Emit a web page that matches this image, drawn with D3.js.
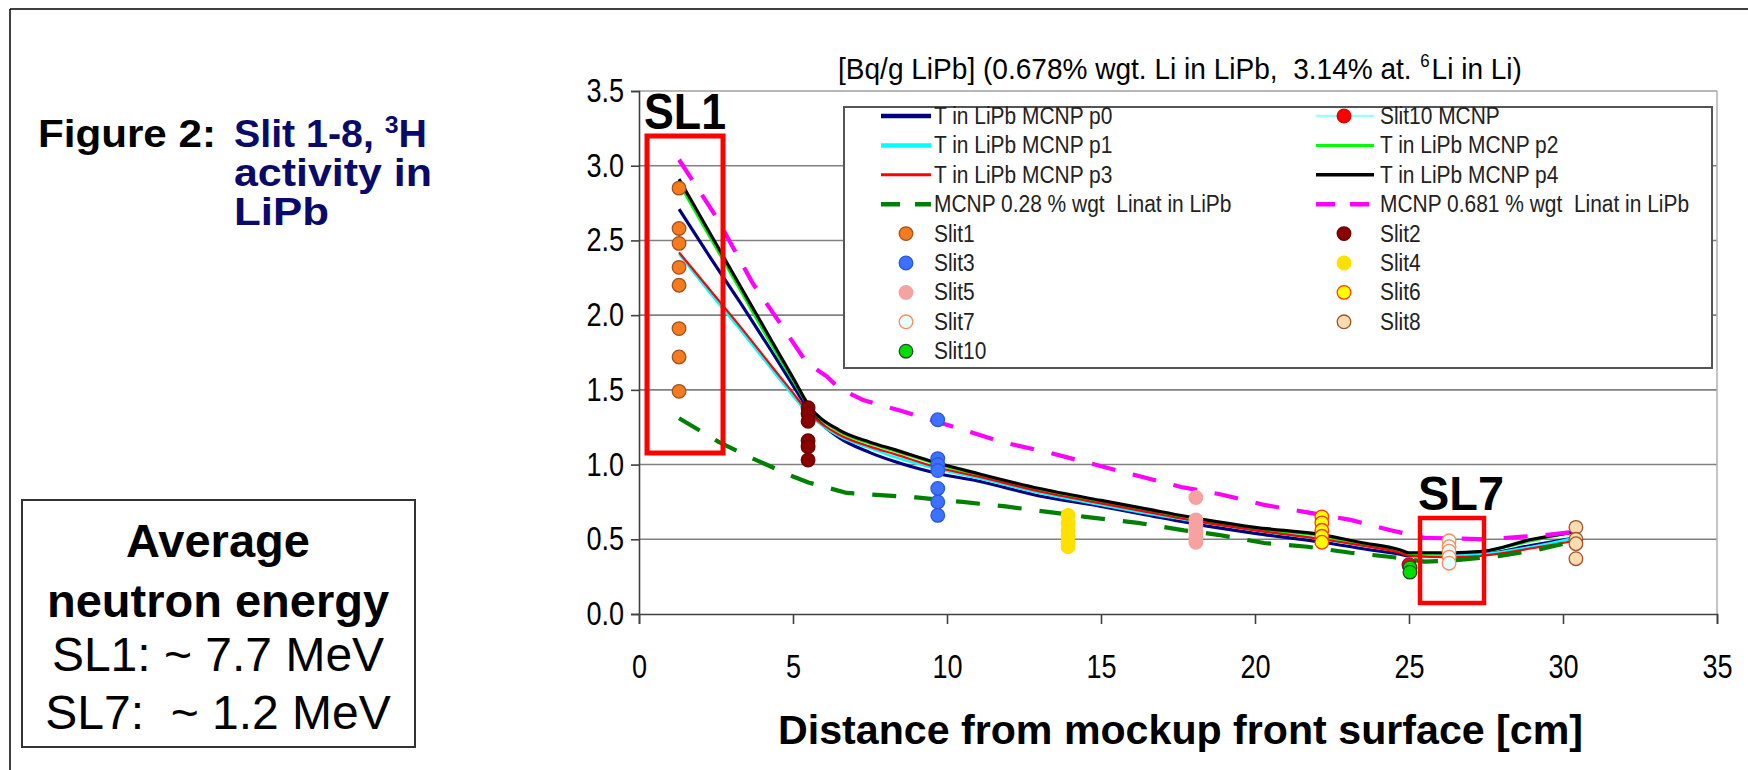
<!DOCTYPE html>
<html><head><meta charset="utf-8">
<script src="https://cdn.jsdelivr.net/npm/d3@7"></script>
<style>
html,body{margin:0;padding:0;background:#fff;}
svg text{font-family:"Liberation Sans",Arial,sans-serif;white-space:pre;}
</style></head>
<body><svg id="c" width="1748" height="770"></svg>
<script>
// ---------- data ----------
const xTicks = [0,5,10,15,20,25,30,35];
const yTicks = [0,0.5,1.0,1.5,2.0,2.5,3.0,3.5];
const mcnpX = [1.3,2.3,3.3,4.3,5.0,5.5,6.5,7.5,8.3,9.7,11,13,15,16.3,18.4,20,22.2,23.4,24.7,25,26.3,27.4,29,30.4];
const p0 = [2.71,2.39,2.08,1.76,1.53,1.37,1.18,1.08,1.02,0.94,0.89,0.79,0.72,0.67,0.59,0.54,0.48,0.44,0.40,0.39,0.39,0.40,0.46,0.51];
const p1 = [2.41,2.15,1.90,1.64,1.46,1.34,1.19,1.11,1.05,0.97,0.91,0.81,0.73,0.68,0.61,0.56,0.50,0.46,0.42,0.40,0.39,0.40,0.45,0.51];
const p2 = [2.88,2.52,2.16,1.80,1.56,1.39,1.22,1.14,1.09,1.00,0.93,0.83,0.75,0.70,0.62,0.57,0.52,0.47,0.42,0.40,0.41,0.42,0.49,0.55];
const p3 = [2.42,2.17,1.92,1.66,1.48,1.35,1.20,1.12,1.07,0.98,0.92,0.82,0.74,0.69,0.61,0.56,0.50,0.46,0.41,0.39,0.38,0.39,0.44,0.49];
const p4 = [2.91,2.55,2.19,1.83,1.58,1.40,1.23,1.15,1.10,1.01,0.94,0.84,0.76,0.71,0.63,0.58,0.53,0.48,0.43,0.41,0.41,0.42,0.50,0.55];
const lin681X = [1.3,2.5,3.7,4.5,5.45,6.1,6.5,7.3,8.5,10.1,11.8,13.3,14.8,16.1,17.6,18.9,20.3,21.7,23.1,24.4,25.5,27.5,29.5,30.4];
const lin681Y = [3.04,2.66,2.21,1.97,1.68,1.59,1.51,1.43,1.36,1.26,1.15,1.08,1.00,0.93,0.85,0.80,0.73,0.68,0.63,0.56,0.51,0.50,0.53,0.55];
const lin028X = [1.3,2.6,3.7,5.0,5.5,6.75,9.0,10.5,11.9,13.4,14.5,16.2,17.7,18.8,20.3,21.7,23.1,24.5,25.5,26.5,28,29.2,30.4];
const lin028Y = [1.31,1.15,1.04,0.92,0.88,0.81,0.78,0.75,0.72,0.68,0.65,0.61,0.56,0.53,0.475,0.45,0.41,0.38,0.35,0.36,0.39,0.43,0.49];
const slitX = {Slit1:1.3, Slit2:5.49, Slit3:9.7, Slit4:13.93, Slit5:18.08, Slit6:22.17, Slit7:26.3, Slit8:30.42, Slit10:25.03, "Slit10 MCNP":25.0};
const slit1 = [2.85,2.58,2.48,2.32,2.20,1.91,1.72,1.49];
const slit2 = [1.38,1.34,1.29,1.16,1.12,1.03];
const slit3 = [1.30,1.04,1.00,0.96,0.84,0.75,0.66];
const slit4 = [0.66,0.61,0.56,0.52,0.48,0.45];
const slit5 = [0.78,0.63,0.59,0.55,0.51,0.48];
const slit6 = [0.65,0.61,0.56,0.52,0.48];
const slit7 = [0.49,0.45,0.42,0.38,0.34];
const slit8 = [0.58,0.50,0.47,0.37];
const slit10 = [0.31,0.28];
const slit10mcnp = [0.33];

// ---------- styles ----------
const lineSeries = [
  {name:"T in LiPb MCNP p0", xs:mcnpX, ys:p0, color:"#000080", w:3.2},
  {name:"T in LiPb MCNP p1", xs:mcnpX, ys:p1, color:"#00ffff", w:2.6},
  {name:"T in LiPb MCNP p2", xs:mcnpX, ys:p2, color:"#00ff00", w:2.4},
  {name:"T in LiPb MCNP p3", xs:mcnpX, ys:p3, color:"#ff0000", w:2.2},
  {name:"T in LiPb MCNP p4", xs:mcnpX, ys:p4, color:"#000000", w:3.2},
  {name:"MCNP 0.28 % wgt  Linat in LiPb", xs:lin028X, ys:lin028Y, color:"#008000", w:4.2, dash:"24,18", linear:true},
  {name:"MCNP 0.681 % wgt  Linat in LiPb", xs:lin681X, ys:lin681Y, color:"#ff00ff", w:4.2, dash:"24,18", linear:true}
];
const pointSeries = [
  {name:"Slit1", ys:slit1, fill:"#f47b20", stroke:"#a4521d"},
  {name:"Slit2", ys:slit2, fill:"#8b0000", stroke:"#6e0000"},
  {name:"Slit3", ys:slit3, fill:"#3d72ff", stroke:"#2b58e0"},
  {name:"Slit4", ys:slit4, fill:"#ffe000", stroke:"#ffe000"},
  {name:"Slit5", ys:slit5, fill:"#f7a1a1", stroke:"#f7a1a1"},
  {name:"Slit6", ys:slit6, fill:"#ffff00", stroke:"#ff3a00"},
  {name:"Slit7", ys:slit7, fill:"#e6ffff", stroke:"#ff8a5a"},
  {name:"Slit8", ys:slit8, fill:"#ffdcb0", stroke:"#a0522d"},
  {name:"Slit10 MCNP", ys:slit10mcnp, fill:"#ff0000", stroke:"#aa0030"},
  {name:"Slit10", ys:slit10, fill:"#00dd00", stroke:"#2a4a2a"}
];

const svg = d3.select("#c");
const x = d3.scaleLinear().domain([0,35]).range([639,1717]);
const y = d3.scaleLinear().domain([0,3.5]).range([614,91]);
const condense = (sel,f)=>sel.each(function(){const n=this.getComputedTextLength();d3.select(this).attr("textLength",n*f).attr("lengthAdjust","spacingAndGlyphs");});
const fitTo = (sel,w)=>sel.attr("textLength",w).attr("lengthAdjust","spacingAndGlyphs");

// outer frame
svg.append("line").attr("x1",10).attr("x2",1748).attr("y1",9).attr("y2",9).attr("stroke","#000").attr("stroke-width",1.5);
svg.append("line").attr("x1",10).attr("x2",10).attr("y1",9).attr("y2",770).attr("stroke","#000").attr("stroke-width",1.5);

// grid
svg.append("g").selectAll("line").data(yTicks.filter(d=>d>0&&d<3.5)).join("line")
  .attr("x1",x(0)).attr("x2",x(35)).attr("y1",d=>y(d)).attr("y2",d=>y(d))
  .attr("stroke","#808080").attr("stroke-width",1.6);
svg.append("line").attr("x1",x(0)).attr("x2",x(35)).attr("y1",y(3.5)).attr("y2",y(3.5)).attr("stroke","#a0a0a0").attr("stroke-width",1.5);
svg.append("line").attr("x1",x(35)).attr("x2",x(35)).attr("y1",y(3.5)).attr("y2",y(0)).attr("stroke","#b0b0b0").attr("stroke-width",1.5);

// axes
const gx = svg.append("g").attr("transform",`translate(0,${y(0)})`)
  .call(d3.axisBottom(x).tickValues(xTicks).tickSize(10).tickPadding(31).tickFormat(d3.format("d")));
const gy = svg.append("g").attr("transform",`translate(${x(0)},0)`)
  .call(d3.axisLeft(y).tickValues(yTicks).tickSize(8).tickPadding(7).tickFormat(d3.format(".1f")));
[gx,gy].forEach(g=>{
  g.select(".domain").attr("stroke","#404040").attr("stroke-width",1.6);
  g.selectAll(".tick line").attr("stroke","#404040").attr("stroke-width",1.6);
  g.selectAll("text").attr("fill","#000").style("font-size","33px").style("font-family",'"Liberation Sans",Arial,sans-serif');
  condense(g.selectAll("text"),0.82);
});

// legend box
const L = {x0:844, x1:1712, y0:107, y1:368};
svg.append("rect").attr("x",L.x0).attr("y",L.y0).attr("width",L.x1-L.x0).attr("height",L.y1-L.y0)
  .attr("fill","#fff").attr("stroke","#555").attr("stroke-width",2);

// lines
const lineGen = d3.line().x(d=>x(d[0])).y(d=>y(d[1]));
lineSeries.forEach(s=>{
  const pts = s.xs.map((v,i)=>[v,s.ys[i]]);
  svg.append("path").attr("d", lineGen.curve(s.linear?d3.curveLinear:d3.curveMonotoneX)(pts))
    .attr("fill","none").attr("stroke",s.color).attr("stroke-width",s.w)
    .attr("stroke-dasharray",s.dash||null).attr("stroke-linejoin","round");
});

// points
pointSeries.forEach(s=>{
  svg.append("g").selectAll("circle").data(s.ys).join("circle")
    .attr("cx",x(slitX[s.name])).attr("cy",d=>y(d)).attr("r",6.8)
    .attr("fill",s.fill).attr("stroke",s.stroke).attr("stroke-width",1.3);
});

// legend entries
const rowY = i => 116 + i*29.4;
const cols = [{l0:881,l1:931,m:906,t:934},{l0:1316,l1:1374,m:1344,t:1380}];
const legendItems = [
  {name:"T in LiPb MCNP p0", type:"line", color:"#000080", w:4.5},
  {name:"Slit10 MCNP", type:"linept", color:"#99ffff", w:2.5, fill:"#ff0000", stroke:"#dd0000"},
  {name:"T in LiPb MCNP p1", type:"line", color:"#00ffff", w:4.5},
  {name:"T in LiPb MCNP p2", type:"line", color:"#00ff00", w:3},
  {name:"T in LiPb MCNP p3", type:"line", color:"#ff0000", w:3},
  {name:"T in LiPb MCNP p4", type:"line", color:"#000000", w:3.5},
  {name:"MCNP 0.28 % wgt  Linat in LiPb", type:"dash", color:"#008000", w:4.5},
  {name:"MCNP 0.681 % wgt  Linat in LiPb", type:"dash", color:"#ff00ff", w:4.5},
  ...pointSeries.filter(p=>p.name!=="Slit10 MCNP").map(p=>({name:p.name,type:"pt",fill:p.fill,stroke:p.stroke}))
];
legendItems.forEach((it,i)=>{
  const c = cols[i%2], yy = rowY(Math.floor(i/2));
  const g = svg.append("g");
  if(it.type==="line"||it.type==="linept"){
    g.append("line").attr("x1",c.l0).attr("x2",c.l1).attr("y1",yy).attr("y2",yy).attr("stroke",it.color).attr("stroke-width",it.w);
  }
  if(it.type==="dash"){
    g.append("line").attr("x1",c.l0).attr("x2",c.l1).attr("y1",yy).attr("y2",yy).attr("stroke",it.color).attr("stroke-width",it.w).attr("stroke-dasharray","19,15");
  }
  if(it.type==="linept"||it.type==="pt"){
    g.append("circle").attr("cx",c.m).attr("cy",yy).attr("r",6.8).attr("fill",it.fill).attr("stroke",it.stroke).attr("stroke-width",1.3);
  }
  const t = g.append("text").attr("x",c.t).attr("y",yy+8).attr("fill","#222").style("font-size","23px").text(it.name);
  condense(t,0.91);
});

// chart title: natural text in a horizontally scaled group, superscript as its own piece
const tg = svg.append("g").attr("fill","#000");
const tp1 = tg.append("text").attr("x",0).attr("y",79).style("font-size","30px").text("[Bq/g LiPb] (0.678% wgt. Li in LiPb,  3.14% at.");
const tp2 = tg.append("text").attr("y",67).style("font-size","18px").text("6");
const tp3 = tg.append("text").attr("y",79).style("font-size","30px").text("Li in Li)");
const w1 = tp1.node().getComputedTextLength(), w2 = tp2.node().getComputedTextLength(), w3 = tp3.node().getComputedTextLength();
const gap1 = 9, gap2 = 2;
tp2.attr("x",w1+gap1);
tp3.attr("x",w1+gap1+w2+gap2);
const sx = 684/(w1+gap1+w2+gap2+w3);
tg.attr("transform",`translate(838,0) scale(${sx},1)`);

// x axis title
svg.append("text").attr("x",778).attr("y",744).attr("fill","#000").style("font-size","41px").style("font-weight","bold")
  .attr("textLength",805).attr("lengthAdjust","spacingAndGlyphs").text("Distance from mockup front surface [cm]");

// SL1 / SL7 annotations
svg.append("rect").attr("x",647).attr("y",136).attr("width",76).attr("height",317).attr("fill","none").attr("stroke","#ff0000").attr("stroke-width",5);
svg.append("text").attr("x",644).attr("y",129).style("font-size","50px").style("font-weight","bold").attr("textLength",82).attr("lengthAdjust","spacingAndGlyphs").text("SL1");
svg.append("rect").attr("x",1420).attr("y",518).attr("width",64).attr("height",85).attr("fill","none").attr("stroke","#ff0000").attr("stroke-width",4.5);
svg.append("text").attr("x",1418).attr("y",510).style("font-size","49px").style("font-weight","bold").attr("textLength",86).attr("lengthAdjust","spacingAndGlyphs").text("SL7");

// figure caption
const cap = svg.append("g").style("font-weight","bold").style("font-size","38px");
fitTo(cap.append("text").attr("x",38).attr("y",147).attr("fill","#000").text("Figure 2:"),178);
const c1 = cap.append("text").attr("x",234).attr("y",147).attr("fill","#0a0a6a");
c1.append("tspan").text("Slit 1-8, ");
c1.append("tspan").attr("dy",-14).style("font-size","24px").text("3");
c1.append("tspan").attr("dy",14).text("H");
fitTo(c1,193);
fitTo(cap.append("text").attr("x",234).attr("y",186).attr("fill","#0a0a6a").text("activity in"),198);
fitTo(cap.append("text").attr("x",234).attr("y",225).attr("fill","#0a0a6a").text("LiPb"),95);

// average energy box
svg.append("rect").attr("x",22).attr("y",500).attr("width",393).attr("height",247).attr("fill","none").attr("stroke","#333").attr("stroke-width",2);
const boxLines = [
  {t:"Average", y:557, b:true, s:47},
  {t:"neutron energy", y:617, b:true, s:47},
  {t:"SL1: ~ 7.7 MeV", y:671, b:false, s:48},
  {t:"SL7:  ~ 1.2 MeV", y:729, b:false, s:48}
];
svg.append("g").selectAll("text").data(boxLines).join("text")
  .attr("x",218).attr("y",d=>d.y).attr("text-anchor","middle").attr("fill","#000")
  .style("font-size",d=>d.s+"px").style("font-weight",d=>d.b?"bold":"normal").text(d=>d.t);
</script></body></html>
